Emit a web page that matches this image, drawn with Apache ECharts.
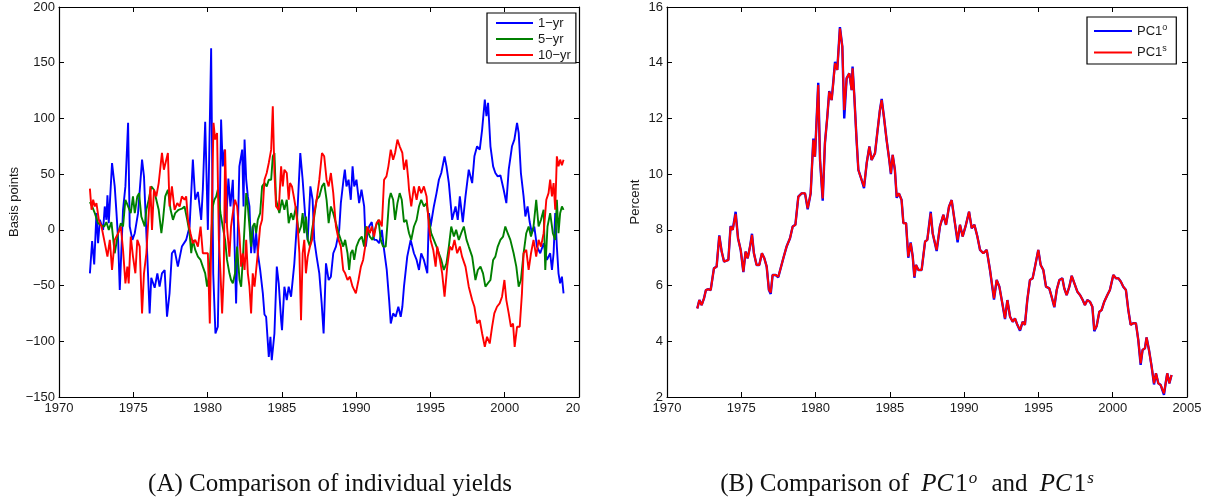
<!DOCTYPE html>
<html>
<head>
<meta charset="utf-8">
<script src="https://cdn.jsdelivr.net/npm/echarts@6/dist/echarts.min.js"></script>
<style>
  html, body { margin: 0; padding: 0; background: #fff; }
  #chart { width: 1206px; height: 501px; }
</style>
</head>
<body>
<div id="chart"></div>
<script>
// (A) deviations of fitted yields, [year, basis points]
const yield1 = [
  [1972.08,-39],[1972.23,-10],[1972.37,-31],[1972.52,15],[1972.63,-12],[1972.75,9],[1972.97,0],[1973.08,21],[1973.19,9],[1973.26,31],[1973.35,6],[1973.57,60],[1973.75,39],[1973.87,15],[1973.98,-9],[1974.09,-54],[1974.31,18],[1974.47,39],[1974.65,96],[1974.76,3],[1974.94,-9],[1975.10,-3],[1975.32,15],[1975.59,63],[1975.72,48],[1975.88,-3],
  [1976.10,-75],[1976.21,-43],[1976.44,-52],[1976.62,-39],[1976.77,-51],[1976.93,-39],[1977.11,-36],[1977.27,-78],[1977.44,-57],[1977.60,-21],[1977.78,-18],[1978.00,-33],[1978.27,-15],[1978.56,-9],[1978.79,3],[1979.01,63],[1979.17,27],[1979.35,34],[1979.57,9],[1979.68,36],[1979.84,97],[1980.02,0],[1980.24,163],[1980.38,-39],[1980.53,-93],[1980.69,-87],[1980.80,-3],[1980.91,99],[1981.02,57],[1981.14,72],[1981.25,6],[1981.40,46],[1981.54,21],[1981.70,45],[1981.92,-66],
  [1982.14,57],[1982.33,72],[1982.42,21],[1982.49,81],[1982.60,45],[1982.71,30],[1982.82,21],[1982.93,-21],[1983.04,3],[1983.16,-21],[1983.27,-3],[1983.38,-21],[1983.54,-36],[1983.72,-57],[1983.83,-76],[1983.94,-78],[1984.12,-114],[1984.23,-96],[1984.32,-117],[1984.50,-93],[1984.66,-33],[1984.79,-48],[1984.95,-81],[1985.01,-90],[1985.17,-51],[1985.33,-63],[1985.46,-51],[1985.62,-60],[1985.84,-30],
  [1986.00,3],[1986.24,69],[1986.40,45],[1986.62,3],[1986.74,-9],[1986.92,39],[1987.07,27],[1987.18,-9],[1987.34,-24],[1987.52,-39],[1987.68,-66],[1987.81,-93],[1987.97,-30],[1988.15,-45],[1988.30,-42],[1988.46,-21],[1988.64,-15],[1988.86,0],[1988.97,24],[1989.15,45],[1989.24,54],[1989.35,39],[1989.49,45],[1989.64,27],[1989.76,57],[1989.87,39],
  [1990.02,45],[1990.20,24],[1990.36,36],[1990.54,21],[1990.65,-15],[1990.76,-3],[1990.87,3],[1991.05,7],[1991.21,-9],[1991.37,-9],[1991.55,-12],[1991.73,0],[1991.88,-18],[1992.06,-36],[1992.22,-63],[1992.33,-84],[1992.49,-75],[1992.66,-78],[1992.84,-69],[1993.00,-78],[1993.11,-69],[1993.22,-51],[1993.44,-24],[1993.67,-9],[1993.89,-21],
  [1994.07,-27],[1994.23,-36],[1994.38,-21],[1994.56,-27],[1994.79,-39],[1994.90,15],[1995.01,3],[1995.23,21],[1995.41,33],[1995.57,45],[1995.73,51],[1995.95,66],[1996.08,57],[1996.24,42],[1996.46,9],[1996.69,21],[1996.84,9],[1996.98,30],[1997.18,7],[1997.36,30],[1997.58,54],[1997.81,42],[1997.96,66],
  [1998.14,75],[1998.32,72],[1998.48,90],[1998.66,117],[1998.77,102],[1998.88,114],[1999.04,75],[1999.22,57],[1999.37,51],[1999.53,48],[1999.71,49],[1999.93,36],[2000.11,24],[2000.27,54],[2000.49,75],[2000.65,81],[2000.83,96],[2000.94,87],[2001.09,51],[2001.27,30],[2001.39,12],[2001.54,21],[2001.68,7],[2001.83,-3],[2001.99,3],
  [2002.17,-15],[2002.39,-21],[2002.62,-12],[2002.84,-27],[2003.06,-21],[2003.18,-36],[2003.29,-21],[2003.40,15],[2003.51,-15],[2003.62,-39],[2003.73,-48],[2003.85,-42],[2003.96,-57]
];
const yield5 = [
  [1972.08,25],[1972.23,21],[1972.41,15],[1972.63,6],[1972.86,4],[1973.04,3],[1973.19,7],[1973.35,0],[1973.53,7],[1973.75,-21],[1973.98,-3],[1974.16,6],[1974.31,3],[1974.47,27],[1974.65,21],[1974.83,15],[1974.98,30],[1975.10,15],[1975.27,30],[1975.39,33],[1975.54,12],[1975.77,3],[1975.88,18],
  [1976.04,27],[1976.21,39],[1976.39,36],[1976.55,27],[1976.71,18],[1976.89,-3],[1977.00,9],[1977.15,30],[1977.33,36],[1977.51,18],[1977.67,9],[1977.82,15],[1978.05,18],[1978.27,19],[1978.45,21],[1978.63,9],[1978.79,-3],[1978.90,-21],[1979.01,-9],[1979.17,-18],[1979.35,-24],[1979.53,-27],[1979.68,-33],[1979.84,-39],[1979.97,-51],
  [1980.13,-39],[1980.24,-9],[1980.35,21],[1980.46,27],[1980.58,30],[1980.69,36],[1980.87,15],[1981.02,3],[1981.18,-9],[1981.31,-27],[1981.47,-39],[1981.58,-45],[1981.70,-48],[1981.85,-39],[1981.99,-15],
  [1982.15,-45],[1982.26,-51],[1982.37,-27],[1982.49,3],[1982.60,33],[1982.71,21],[1982.82,3],[1982.93,-15],[1983.04,3],[1983.16,6],[1983.27,-3],[1983.38,9],[1983.54,15],[1983.67,39],[1983.83,42],[1983.98,39],[1984.12,45],[1984.28,45],[1984.39,66],[1984.50,69],[1984.61,27],[1984.72,21],[1984.83,15],
  [1985.01,27],[1985.17,18],[1985.33,27],[1985.46,6],[1985.62,15],[1985.77,9],[1985.95,21],[1986.13,-3],[1986.29,3],[1986.40,15],[1986.51,-3],[1986.62,12],[1986.74,-9],[1986.89,-15],[1987.03,0],[1987.18,12],[1987.34,27],[1987.52,30],[1987.70,39],[1987.85,42],[1988.01,27],[1988.15,6],[1988.30,21],[1988.46,15],[1988.64,6],[1988.82,-3],[1988.97,-9],
  [1989.13,-15],[1989.26,-9],[1989.42,-21],[1989.53,-36],[1989.64,-21],[1989.76,-18],[1989.87,-27],[1990.02,-15],[1990.20,-9],[1990.38,-6],[1990.54,-15],[1990.65,3],[1990.76,0],[1990.92,-6],[1991.10,-9],[1991.32,3],[1991.50,9],[1991.66,-9],[1991.81,-15],[1991.99,-15],[1992.11,6],[1992.22,27],[1992.33,33],[1992.49,27],[1992.62,9],[1992.78,24],[1992.93,33],[1993.07,27],[1993.22,7],[1993.38,9],[1993.51,0],
  [1993.56,-3],[1993.71,-9],[1993.89,3],[1994.07,9],[1994.23,21],[1994.38,27],[1994.56,21],[1994.74,24],[1994.90,9],[1995.05,-3],[1995.23,-9],[1995.41,-15],[1995.57,-21],[1995.73,-27],[1995.90,-36],[1996.08,-30],[1996.24,-15],[1996.40,3],[1996.58,-6],[1996.73,0],[1996.91,-9],[1997.07,-3],[1997.25,3],[1997.43,-9],[1997.58,-15],[1997.81,-24],
  [1998.03,-45],[1998.19,-36],[1998.37,-33],[1998.54,-39],[1998.70,-51],[1998.86,-48],[1999.04,-45],[1999.22,-27],[1999.37,-24],[1999.53,-15],[1999.71,-9],[1999.89,-6],[2000.04,3],[2000.20,-3],[2000.38,-9],[2000.60,-21],[2000.78,-33],[2000.94,-51],[2001.09,-45],[2001.27,-21],[2001.45,-3],[2001.61,3],[2001.77,-6],[2001.94,3],
  [2002.12,27],[2002.28,3],[2002.44,9],[2002.62,18],[2002.73,-36],[2002.88,3],[2003.06,15],[2003.24,-3],[2003.40,-9],[2003.51,27],[2003.62,-3],[2003.73,15],[2003.85,21],[2003.96,18]
];
const yield10 = [
  [1972.08,37],[1972.19,18],[1972.30,27],[1972.41,21],[1972.52,24],[1972.68,9],[1972.86,3],[1973.04,-9],[1973.26,-24],[1973.42,-9],[1973.57,-36],[1973.75,-9],[1973.98,-3],[1974.16,3],[1974.31,-18],[1974.47,-48],[1974.60,-33],[1974.69,-48],[1974.83,-6],[1974.98,-24],[1975.14,-39],[1975.27,-9],[1975.43,-15],[1975.59,-75],[1975.72,-39],[1975.88,-21],
  [1976.04,15],[1976.15,39],[1976.26,0],[1976.39,36],[1976.55,30],[1976.71,42],[1976.93,69],[1977.06,54],[1977.18,54],[1977.33,69],[1977.44,21],[1977.60,39],[1977.78,18],[1977.96,24],[1978.12,21],[1978.27,30],[1978.45,27],[1978.56,30],[1978.68,9],[1978.85,-3],[1979.01,-12],[1979.17,-9],[1979.35,-15],[1979.53,3],[1979.68,-21],[1979.84,-21],
  [1980.02,-21],[1980.15,-84],[1980.29,21],[1980.40,96],[1980.51,81],[1980.64,87],[1980.76,-9],[1980.87,-39],[1980.98,-75],[1981.09,-39],[1981.18,72],[1981.31,3],[1981.47,-24],[1981.58,3],[1981.70,15],[1981.85,27],[1981.99,21],
  [1982.15,-6],[1982.26,-33],[1982.37,-21],[1982.49,-36],[1982.60,-9],[1982.71,-39],[1982.82,-51],[1982.93,-75],[1983.04,-39],[1983.16,-51],[1983.27,-51],[1983.38,-21],[1983.54,3],[1983.67,9],[1983.83,45],[1983.98,51],[1984.12,60],[1984.28,72],[1984.34,93],[1984.39,111],[1984.50,51],[1984.61,21],[1984.79,18],[1984.95,57],
  [1985.06,39],[1985.17,54],[1985.33,51],[1985.46,27],[1985.55,42],[1985.68,39],[1985.84,27],[1985.95,18],[1986.06,3],[1986.18,-21],[1986.29,-81],[1986.40,-21],[1986.51,-9],[1986.62,-39],[1986.74,-24],[1986.89,-15],[1987.03,-9],[1987.18,15],[1987.34,27],[1987.52,45],[1987.70,69],[1987.85,66],[1988.01,45],[1988.15,39],[1988.30,51],[1988.46,33],[1988.64,3],[1988.82,-9],[1988.97,-15],
  [1989.13,-36],[1989.26,-39],[1989.42,-45],[1989.58,-42],[1989.76,-51],[1989.98,-57],[1990.16,-45],[1990.32,-33],[1990.47,-27],[1990.61,-15],[1990.76,3],[1990.92,-3],[1991.05,3],[1991.21,-6],[1991.37,6],[1991.55,9],[1991.73,3],[1991.88,45],[1992.04,48],[1992.17,57],[1992.33,72],[1992.49,63],[1992.62,69],[1992.78,81],[1992.93,75],[1993.11,69],[1993.22,54],[1993.38,63],[1993.51,45],
  [1993.56,36],[1993.71,21],[1993.89,39],[1994.07,27],[1994.23,39],[1994.38,33],[1994.56,39],[1994.74,30],[1994.90,3],[1995.01,-9],[1995.19,-18],[1995.35,-33],[1995.46,-15],[1995.64,-27],[1995.79,-39],[1995.95,-60],[1996.13,-33],[1996.31,-15],[1996.46,-18],[1996.62,-9],[1996.80,-21],[1996.98,-15],[1997.13,-24],[1997.36,-33],[1997.58,-51],[1997.81,-63],[1997.96,-69],
  [1998.14,-84],[1998.32,-81],[1998.48,-93],[1998.66,-105],[1998.81,-96],[1998.99,-102],[1999.15,-87],[1999.30,-75],[1999.48,-69],[1999.66,-66],[1999.82,-60],[1999.98,-45],[2000.11,-63],[2000.27,-75],[2000.42,-87],[2000.56,-84],[2000.67,-105],[2000.83,-87],[2001.01,-87],[2001.16,-57],[2001.27,-21],[2001.45,-18],[2001.61,-36],[2001.77,-21],[2001.94,-9],
  [2002.12,-24],[2002.28,-9],[2002.44,-15],[2002.62,-3],[2002.80,27],[2002.95,33],[2003.06,45],[2003.18,30],[2003.29,42],[2003.40,18],[2003.51,66],[2003.62,57],[2003.73,63],[2003.85,58],[2003.96,63]
];

// (B) first principal component, percent
const pcYears = [
  1972.04,1972.18,1972.33,1972.49,1972.62,1972.78,1972.94,1973.16,1973.34,1973.52,1973.68,1973.84,1974.13,1974.28,1974.42,1974.62,1974.78,1974.96,1975.14,1975.29,1975.43,1975.59,1975.72,1975.85,
  1976.03,1976.21,1976.39,1976.55,1976.71,1976.86,1976.98,1977.11,1977.31,1977.49,1977.65,1977.83,1978.05,1978.28,1978.46,1978.64,1978.84,1979.06,1979.29,1979.47,1979.67,1979.85,1979.96,
  1980.18,1980.30,1980.48,1980.63,1980.79,1980.92,1981.08,1981.19,1981.31,1981.46,1981.64,1981.80,1981.93,1982.09,1982.27,1982.43,1982.49,1982.61,1982.76,1982.88,1983.10,1983.26,1983.44,1983.62,1983.77,
  1984.00,1984.15,1984.33,1984.45,1984.60,1984.78,1984.96,1985.07,1985.19,1985.34,1985.46,1985.61,1985.79,1985.91,1986.09,1986.24,1986.40,1986.54,1986.65,1986.76,1986.92,1987.14,1987.37,1987.52,1987.75,1987.88,
  1988.15,1988.37,1988.60,1988.78,1988.98,1989.16,1989.38,1989.56,1989.72,1989.90,1990.12,1990.33,1990.51,1990.69,1990.89,1991.07,1991.29,1991.52,1991.74,1992.01,1992.19,1992.37,1992.57,1992.75,1992.91,
  1993.09,1993.27,1993.42,1993.58,1993.76,1993.94,1994.09,1994.25,1994.43,1994.61,1994.77,1994.99,1995.15,1995.33,1995.51,1995.73,1995.89,1996.07,1996.23,1996.41,1996.61,1996.74,1996.90,
  1997.08,1997.24,1997.42,1997.62,1997.80,1997.98,1998.13,1998.29,1998.47,1998.63,1998.76,1998.92,1999.10,1999.25,1999.43,1999.64,1999.81,2000.04,2000.22,2000.38,2000.55,2000.71,2000.89,
  2001.05,2001.21,2001.39,2001.56,2001.72,2001.88,2002.01,2002.17,2002.28,2002.46,2002.62,2002.78,2002.91,2003.07,2003.23,2003.36,2003.45,2003.58,2003.67,2003.81,2003.96
];
const pc1o = [
  5.18,5.48,5.30,5.54,5.84,5.87,5.84,6.62,6.68,7.80,7.22,6.86,6.92,8.14,8.00,8.65,7.70,7.28,6.48,7.22,6.98,7.40,7.86,7.16,
  6.74,6.74,7.16,6.98,6.68,5.84,5.70,6.38,6.38,6.30,6.62,6.98,7.40,7.70,8.12,8.18,9.19,9.31,9.31,8.74,9.31,11.28,10.63,
  13.28,10.51,9.05,11.11,12.06,12.98,12.66,13.30,14.03,13.74,15.28,14.58,12.00,13.44,13.62,13.02,13.86,12.78,11.23,10.15,9.79,9.50,10.39,10.99,10.51,
  10.75,11.46,12.30,12.70,12.06,11.23,10.51,10.00,10.69,10.15,9.15,9.31,9.07,8.24,8.24,7.00,7.55,7.04,6.28,6.74,6.56,6.56,7.58,7.64,8.65,7.88,
  7.24,8.12,8.54,8.18,8.83,9.07,8.24,7.55,8.18,7.76,8.18,8.65,8.06,8.18,7.76,7.28,7.16,7.28,6.56,5.50,6.20,5.96,5.36,4.80,5.48,
  4.88,4.70,4.82,4.59,4.38,4.70,4.59,5.48,6.20,6.26,6.68,7.28,6.74,6.56,5.96,5.90,5.60,5.22,5.84,6.20,6.26,5.90,5.66,
  5.96,6.35,6.08,5.78,5.66,5.48,5.30,5.48,5.42,5.24,4.36,4.55,5.06,5.12,5.42,5.66,5.84,6.38,6.26,6.26,6.14,5.96,5.84,
  5.12,4.59,4.65,4.65,4.05,3.15,3.69,3.75,4.14,3.63,3.09,2.45,2.85,2.49,2.43,2.43,2.08,2.55,2.85,2.49,2.79
];
const pc1s = [
  5.18,5.48,5.30,5.54,5.84,5.87,5.84,6.62,6.68,7.78,7.22,6.86,6.92,8.12,8.00,8.57,7.70,7.28,6.50,7.22,6.98,7.40,7.82,7.16,
  6.74,6.74,7.16,6.98,6.68,5.84,5.75,6.38,6.38,6.32,6.62,6.98,7.40,7.70,8.12,8.18,9.19,9.31,9.31,8.77,9.31,11.23,10.63,
  13.20,10.51,9.13,11.11,12.06,12.96,12.66,13.26,13.98,13.74,15.23,14.58,12.30,13.44,13.62,13.02,13.80,12.78,11.23,10.15,9.79,9.55,10.39,10.99,10.51,
  10.75,11.46,12.30,12.66,12.06,11.23,10.51,10.03,10.69,10.15,9.19,9.31,9.07,8.24,8.24,7.04,7.52,7.04,6.32,6.74,6.56,6.56,7.58,7.64,8.59,7.88,
  7.28,8.12,8.54,8.18,8.83,9.07,8.24,7.64,8.18,7.76,8.18,8.65,8.06,8.18,7.76,7.28,7.16,7.28,6.56,5.54,6.20,5.96,5.36,4.82,5.48,
  4.88,4.70,4.82,4.59,4.41,4.70,4.59,5.48,6.20,6.26,6.68,7.28,6.74,6.56,5.96,5.90,5.60,5.24,5.84,6.20,6.26,5.90,5.66,
  5.96,6.35,6.08,5.78,5.66,5.48,5.30,5.48,5.42,5.24,4.41,4.55,5.06,5.12,5.42,5.66,5.84,6.38,6.26,6.26,6.14,5.96,5.84,
  5.12,4.59,4.65,4.65,4.05,3.21,3.69,3.75,4.14,3.63,3.09,2.49,2.85,2.49,2.43,2.43,2.13,2.55,2.85,2.49,2.79
];

const yearMin = 1970, yearMax = 2005, yearStep = 5;
const bpMin = -150, bpMax = 200, bpStep = 50;
const pctMin = 2, pctMax = 16, pctStep = 2;

const labelFont = "'Liberation Sans Narrow', 'Liberation Sans', sans-serif";
const labelSize = 13;
const inkColor = '#1a1a1a';
const capFont = 'Liberation Serif';

function frameX(grid, showLabels, position, fmt) {
  return {
    type: 'value', gridIndex: grid, position: position,
    min: yearMin, max: yearMax, interval: yearStep,
    axisLine: { show: true, onZero: false, lineStyle: { color: '#000', width: 1.2 } },
    axisTick: { show: true, inside: true, length: 5, lineStyle: { color: '#000', width: 1 } },
    axisLabel: {
      show: showLabels, margin: 5, fontSize: labelSize, fontFamily: labelFont, color: inkColor,
      showMinLabel: true, showMaxLabel: true, formatter: fmt,
      rich: { cut: { fontSize: labelSize, fontFamily: labelFont, color: inkColor, padding: [0, 12, 0, 0] } }
    },
    splitLine: { show: false }
  };
}

function frameY(grid, showLabels, position, min, max, step, name, gap) {
  return {
    type: 'value', gridIndex: grid, position: position,
    min: min, max: max, interval: step,
    name: name, nameLocation: 'middle', nameGap: gap,
    nameTextStyle: { fontSize: labelSize, fontFamily: labelFont, color: inkColor },
    axisLine: { show: true, onZero: false, lineStyle: { color: '#000', width: 1.2 } },
    axisTick: { show: true, inside: true, length: 5, lineStyle: { color: '#000', width: 1 } },
    axisLabel: {
      show: showLabels, margin: 4, fontSize: labelSize, fontFamily: labelFont, color: inkColor,
      formatter: v => String(v).replace('-', '\u2212')
    },
    splitLine: { show: false }
  };
}

// matlab cuts the last tick label of panel A down to "20"
const fmtA = v => v === yearMax ? '{cut|20}' : String(v);
const fmtB = v => String(v);

function lineSeries(name, data, color, width, xi, yi) {
  return {
    name: name, type: 'line', data: data, xAxisIndex: xi, yAxisIndex: yi,
    showSymbol: false, symbol: 'none', animation: false,
    lineStyle: { color: color, width: width }, itemStyle: { color: color }
  };
}

const pcO = pcYears.map((y, i) => [y, pc1o[i]]);
const pcS = pcYears.map((y, i) => [y, pc1s[i]]);

const chart = echarts.init(document.getElementById('chart'));
chart.setOption({
  backgroundColor: '#fff',
  animation: false,
  grid: [
    { left: 59, top: 7, width: 520, height: 390 },
    { left: 667, top: 7, width: 520, height: 390 }
  ],
  xAxis: [
    frameX(0, true, 'bottom', fmtA),
    frameX(0, false, 'top', fmtA),
    frameX(1, true, 'bottom', fmtB),
    frameX(1, false, 'top', fmtB)
  ],
  yAxis: [
    frameY(0, true, 'left', bpMin, bpMax, bpStep, 'Basis points', 38),
    frameY(0, false, 'right', bpMin, bpMax, bpStep, '', 0),
    frameY(1, true, 'left', pctMin, pctMax, pctStep, 'Percent', 25),
    frameY(1, false, 'right', pctMin, pctMax, pctStep, '', 0)
  ],
  legend: [
    {
      data: ['1\u2212yr', '5\u2212yr', '10\u2212yr'],
      orient: 'vertical', left: 487, top: 13,
      icon: 'rect', itemWidth: 37, itemHeight: 2, itemGap: 2,
      padding: [3, 5, 1, 9],
      borderColor: '#000', borderWidth: 1.2, backgroundColor: '#fff',
      textStyle: { fontSize: labelSize, fontFamily: labelFont, color: inkColor, lineHeight: 14 }
    },
    {
      data: ['PC1o', 'PC1s'],
      orient: 'vertical', left: 1087, top: 17,
      icon: 'rect', itemWidth: 38, itemHeight: 2, itemGap: 7,
      padding: [6, 9, 5, 7],
      borderColor: '#000', borderWidth: 1.2, backgroundColor: '#fff',
      formatter: n => '{b|PC1}{s|' + n.slice(3) + '}',
      textStyle: {
        fontSize: labelSize, fontFamily: labelFont, color: inkColor,
        rich: {
          b: { fontSize: labelSize, fontFamily: labelFont, color: inkColor },
          s: { fontSize: 9, fontFamily: labelFont, color: inkColor, padding: [0, 0, 7, 0] }
        }
      }
    }
  ],
  series: [
    lineSeries('1\u2212yr', yield1, '#0000ff', 1.9, 0, 0),
    lineSeries('5\u2212yr', yield5, '#008000', 1.9, 0, 0),
    lineSeries('10\u2212yr', yield10, '#ff0000', 1.9, 0, 0),
    lineSeries('PC1o', pcO, '#0000ff', 2.4, 2, 2),
    lineSeries('PC1s', pcS, '#ff0000', 2, 2, 2)
  ],
  graphic: [
    {
      type: 'text', x: 330, y: 484,
      style: {
        text: '(A) Comparison of individual yields',
        fontSize: 25, fontFamily: capFont, fill: '#111',
        align: 'center', verticalAlign: 'middle'
      }
    },
    {
      type: 'text', x: 911, y: 484,
      style: {
        text: '(B) Comparison of {i|PC}1{s|o} and {i|PC}1{s|s}',
        fontSize: 25, fontFamily: capFont, fill: '#111',
        align: 'center', verticalAlign: 'middle',
        rich: {
          i: { fontSize: 25, fontFamily: capFont, fontStyle: 'italic', fill: '#111', padding: [0, 2, 0, 6] },
          s: { fontSize: 17, fontFamily: capFont, fontStyle: 'italic', fill: '#111', padding: [0, 8, 11, 1] }
        }
      }
    }
  ]
});
</script>
</body>
</html>
